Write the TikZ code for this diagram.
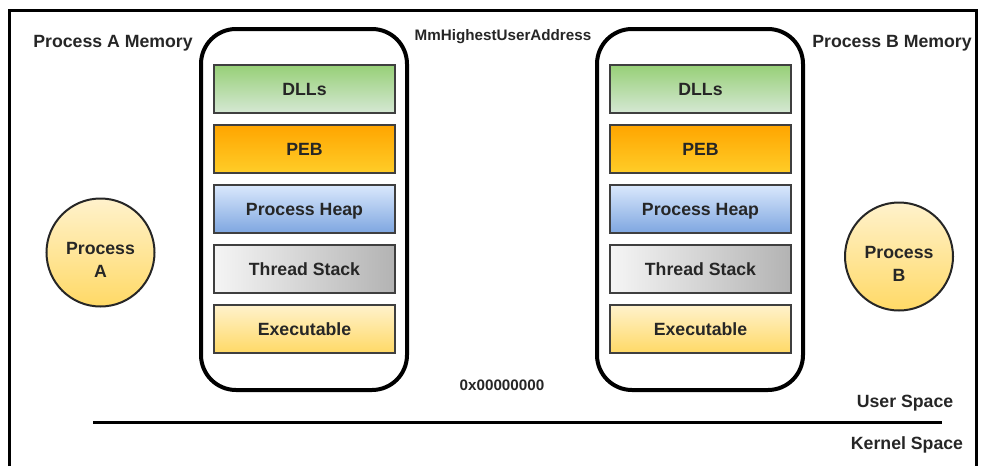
\documentclass[tikz,border=0pt]{standalone}
\usepackage{fontspec}
\setmainfont{Liberation Sans}
\usetikzlibrary{positioning}
\definecolor{ink}     {HTML}{262626}
\definecolor{edge}    {HTML}{3F3F3F}
\definecolor{dlltop}  {HTML}{97D077}
\definecolor{dllbot}  {HTML}{D5E8D4}
\definecolor{pebtop}  {HTML}{FFA500}
\definecolor{pebbot}  {HTML}{FFCD28}
\definecolor{heaptop} {HTML}{DAE8FC}
\definecolor{heapbot} {HTML}{7EA6E0}
\definecolor{stackl}  {HTML}{F5F5F5}
\definecolor{stackr}  {HTML}{B3B3B3}
\definecolor{exetop}  {HTML}{FFF2CC}
\definecolor{exebot}  {HTML}{FFD966}
\tikzset{
  lbl/.style      ={font=\fontsize{17.7}{22}\selectfont\bfseries, text=ink,
                    inner sep=0pt},
  addr/.style     ={font=\fontsize{15.2}{18}\selectfont\bfseries, text=ink,
                    inner sep=0pt},
  mem/.style      ={draw=black, line width=4pt, rounded corners=35pt,
                    minimum width=206pt, minimum height=361pt},
  segbox/.style   ={draw=edge, line width=2.5pt,
                    minimum width=181pt, minimum height=48pt, inner sep=0pt,
                    font=\fontsize{17.7}{22}\selectfont\bfseries, text=ink,
                    text height=12.7pt, text depth=0pt},
  proc/.style     ={circle, draw=ink, line width=2pt, minimum size=108pt,
                    top color=exetop, bottom color=exebot, align=center,
                    inner sep=0pt, font=\fontsize{17.7}{23}\selectfont\bfseries,
                    text=ink, text height=49pt},
}
\begin{document}
\begin{tikzpicture}[x=1pt,y=-1pt]
  \useasboundingbox (0,0) rectangle (985,466);
  % frame round the figure
  \draw[line width=3pt] (9,466) -- (9,10) -- (976,10) -- (976,466);
  % process A
  \begin{scope}[shift={(0,0)}]
    \node[mem] (memA) at (304,209.5) {};
    \node[segbox,top color=dlltop,bottom color=dllbot] (dllsA) at (304.5,89) {DLLs};
    \node[segbox,top color=pebtop,bottom color=pebbot] (pebA) at (304.5,149) {PEB};
    \node[segbox,top color=heaptop,bottom color=heapbot] (heapA) at (304.5,209) {Process Heap};
    \node[segbox,left color=stackl,right color=stackr] (stackA) at (304.5,269) {Thread Stack};
    \node[segbox,top color=exetop,bottom color=exebot] (exeA) at (304.5,329) {Executable};
  \end{scope}
  % process B
  \begin{scope}[shift={(396,0)}]
    \node[mem] (memB) at (304,209.5) {};
    \node[segbox,top color=dlltop,bottom color=dllbot] (dllsB) at (304.5,89) {DLLs};
    \node[segbox,top color=pebtop,bottom color=pebbot] (pebB) at (304.5,149) {PEB};
    \node[segbox,top color=heaptop,bottom color=heapbot] (heapB) at (304.5,209) {Process Heap};
    \node[segbox,left color=stackl,right color=stackr] (stackB) at (304.5,269) {Thread Stack};
    \node[segbox,top color=exetop,bottom color=exebot] (exeB) at (304.5,329) {Executable};
  \end{scope}
  \node[lbl] (titleA) at (113,43) {Process A Memory};
  \node[lbl] (titleB) at (892,43) {Process B Memory};
  \node[addr] (high) at (503,37) {MmHighestUserAddress};
  \node[addr] (low) at (502,385) {0x00000000};
  \node[proc] (procA) at (100.5,252.5) {Process\\A};
  \node[proc] (procB) at (899,256.5) {Process\\B};
  % user / kernel split
  \coordinate (splitL) at (93,422);
  \coordinate (splitR) at (942,422);
  \draw[line width=3pt] (splitL) -- (splitR);
  \node[lbl] (user) at (905,403) {User Space};
  \node[lbl] (kernel) at (907,445) {Kernel Space};
\end{tikzpicture}
\end{document}
